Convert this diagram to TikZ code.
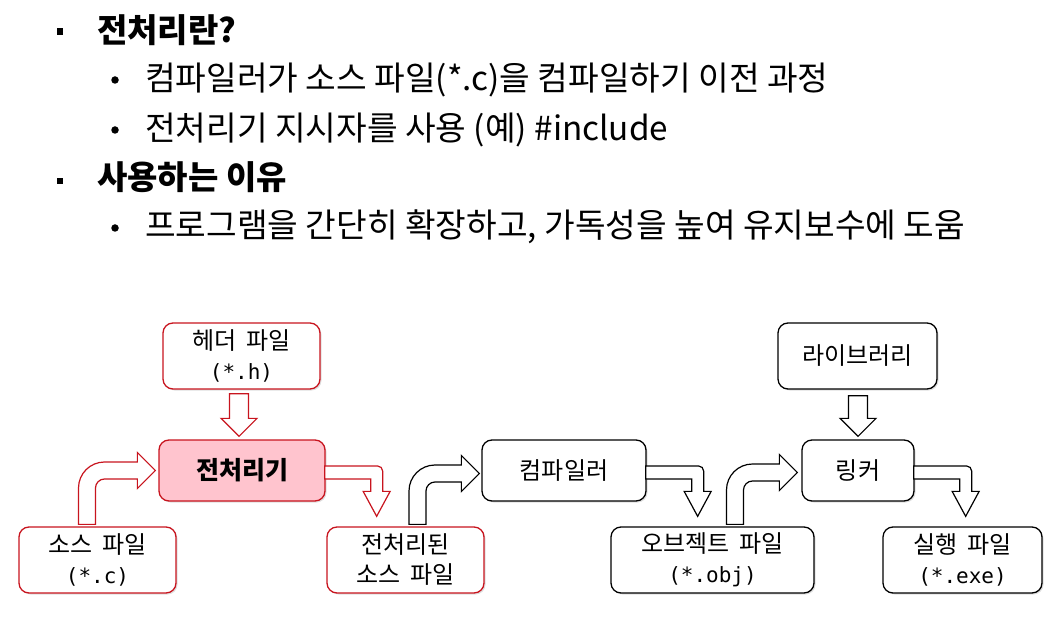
\documentclass[tikz,border=0pt]{standalone}
\usepackage{fontspec}
\setmainfont{Noto Sans CJK KR}
\newfontfamily\monofam{DejaVu Sans Mono}
\usetikzlibrary{calc,shadows}
\definecolor{boxred}{RGB}{200,20,30}
\definecolor{boxpink}{RGB}{255,196,206}
\newcommand\boxfont{\fontsize{24}{30}\selectfont}
\newcommand\codetxt[1]{{\fontsize{21}{30}\selectfont\monofam #1}}
\newcommand\kgap{\hspace{0.4em}}
\tikzset{
  box/.style={draw=black, line width=1.3pt, fill=white, rounded corners=10pt,
    align=center, inner sep=0pt, font=\boxfont,
    drop shadow={shadow xshift=1.5pt, shadow yshift=-1.5pt, opacity=0.25}},
  redbox/.style={box, draw=boxred},
  blockarrow/.style={draw=black, fill=white, line width=1.2pt, line join=miter},
  redarrow/.style={blockarrow, draw=boxred},
  heading/.style={anchor=base west, inner sep=0pt, font=\fontsize{33}{40}\selectfont\bfseries},
  item/.style={anchor=base west, inner sep=0pt, font=\fontsize{33.3}{40}\selectfont},
  sqbullet/.style={fill=black, minimum size=6.5pt, inner sep=0pt},
  rdbullet/.style={circle, fill=black, minimum size=7.5pt, inner sep=0pt},
}
% straight block arrow pointing down: #1 shaft top, #2 tip, #3 style
\newcommand\downblock[3]{%
  \draw[#3] let \p1=(#1), \p2=(#2) in
    (\x2-9.5pt,\y1) -- (\x2+9.5pt,\y1) -- (\x2+9.5pt,\y2+18pt) -- (\x2+18pt,\y2+18pt)
    -- (\x2,\y2) -- (\x2-18pt,\y2+18pt) -- (\x2-9.5pt,\y2+18pt) -- cycle;}
% elbow block arrow: right from #1.east, then down onto #2.north, style #3
\newcommand\elbowdown[3]{%
  \draw[#3] let \p1=(#1.east), \p2=(#2.north) in
    (\x1-1pt,\y1+4.5pt) -- (\x1+52pt,\y1+4.5pt)
    .. controls (\x1+54.76pt,\y1+4.5pt) and (\x1+57pt,\y1+2.26pt) .. (\x1+57pt,\y1-0.5pt)
    -- (\x1+57pt,\y2+35pt) -- (\x1+64.5pt,\y2+35pt) -- (\x1+51pt,\y2+10pt)
    -- (\x1+37.5pt,\y2+35pt) -- (\x1+45pt,\y2+35pt) -- (\x1+45pt,\y1-8.5pt)
    -- (\x1-1pt,\y1-8.5pt) -- cycle;}
% bent block arrow: up from #1 (shaft bottom centre), then right to tip #2, style #3
\newcommand\bentup[3]{%
  \draw[#3] let \p1=(#1), \p2=(#2) in
    (\x1-8.5pt,\y1) -- (\x1-8.5pt,\y2-17.5pt)
    .. controls (\x1-8.5pt,\y2-3.15pt) and (\x1+3.15pt,\y2+8.5pt) .. (\x1+17.5pt,\y2+8.5pt)
    -- (\x2-18pt,\y2+8.5pt) -- (\x2-18pt,\y2+18pt) -- (\x2,\y2)
    -- (\x2-18pt,\y2-18pt) -- (\x2-18pt,\y2-8.5pt) -- (\x1+17.5pt,\y2-8.5pt)
    .. controls (\x1+12.53pt,\y2-8.5pt) and (\x1+8.5pt,\y2-12.53pt) .. (\x1+8.5pt,\y2-17.5pt)
    -- (\x1+8.5pt,\y1) -- cycle;}
\begin{document}
\begin{tikzpicture}[x=1pt,y=1pt]
\useasboundingbox (0,0) rectangle (1060,630);

% ---- text part ----
\node[sqbullet] (b1) at (60,598.5) {};
\node[heading] (t1) at (97,587) {전처리란?};
\node[rdbullet] (b2) at (115,550) {};
\node[item] (t2) at (145,539) {컴파일러가 소스 파일(*.c)을 컴파일하기 이전 과정};
\node[rdbullet] (b3) at (115,500) {};
\node[item] (t3) at (145,489) {전처리기 지시자를 사용 (예) \#include};
\node[sqbullet] (b4) at (60,449) {};
\node[heading] (t4) at (97,440) {사용하는 이유};
\node[rdbullet] (b5) at (115,402) {};
\node[item] (t5) at (145,392) {프로그램을 간단히 확장하고, 가독성을 높여 유지보수에 도움};

% ---- boxes ----
\node[redbox, minimum width=157pt, minimum height=66pt] (hdr) at (241.5,274) {헤더\kgap 파일\\\codetxt{(*.h)}};
\node[redbox, fill=boxpink, minimum width=166pt, minimum height=61pt, font=\fontsize{25}{30}\selectfont\bfseries] (pre) at (242,159.5) {전처리기};
\node[redbox, minimum width=157pt, minimum height=66pt] (src) at (97.5,70) {소스\kgap 파일\\\codetxt{(*.c)}};
\node[redbox, minimum width=157pt, minimum height=66pt] (ppd) at (405.5,70) {전처리된\\소스\kgap 파일};
\node[box, minimum width=164pt, minimum height=61pt] (cmp) at (564,159.5) {컴파일러};
\node[box, minimum width=203pt, minimum height=66pt] (obj) at (712.5,70) {오브젝트\kgap 파일\\\codetxt{(*.obj)}};
\node[box, minimum width=159pt, minimum height=66pt] (lib) at (857.5,274) {라이브러리};
\node[box, minimum width=112pt, minimum height=61pt] (lnk) at (858,159.5) {링커};
\node[box, minimum width=159pt, minimum height=66pt] (exe) at (962.5,70) {실행\kgap 파일\\\codetxt{(*.exe)}};

% ---- block arrows ----
\downblock{$(hdr.south)+(-2.5,-4)$}{$(pre.north)+(-3,3)$}{redarrow}
\downblock{$(lib.south)+(0,-6)$}{$(lnk.north)+(0,3)$}{blockarrow}
\elbowdown{pre}{ppd}{redarrow}
\elbowdown{cmp}{obj}{blockarrow}
\elbowdown{lnk}{exe}{blockarrow}
\bentup{$(src.north)+(-10.5,2)$}{$(pre.west)+(-3,0)$}{redarrow}
\bentup{$(ppd.north)+(12,2)$}{$(cmp.west)+(-2,-3)$}{blockarrow}
\bentup{$(obj.north)+(22.5,2)$}{$(lnk.west)+(-4,-2)$}{blockarrow}
\end{tikzpicture}
\end{document}
